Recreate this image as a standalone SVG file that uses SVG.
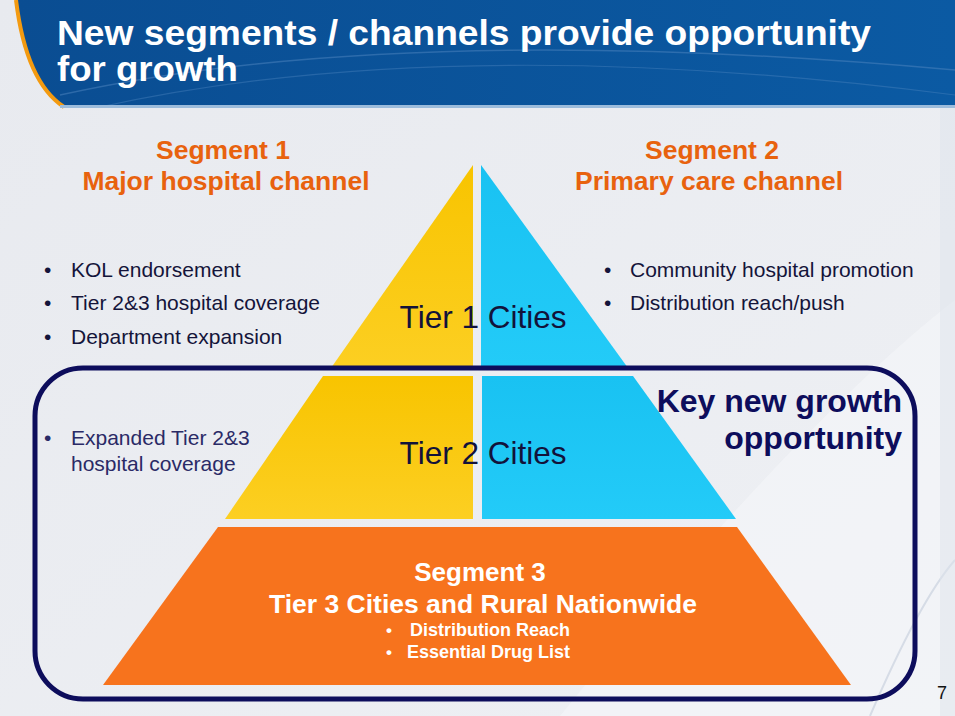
<svg xmlns="http://www.w3.org/2000/svg" width="955" height="716" viewBox="0 0 955 716">
<defs>
<linearGradient id="hdr" x1="0" y1="0" x2="1" y2="0">
<stop offset="0" stop-color="#0a4d92"/>
<stop offset="1" stop-color="#0b5aa3"/>
</linearGradient>
<linearGradient id="bg" x1="0" y1="0" x2="1" y2="1">
<stop offset="0" stop-color="#e8eaef"/>
<stop offset="1" stop-color="#eef0f4"/>
</linearGradient>
<linearGradient id="yel" x1="0" y1="0" x2="0" y2="1">
<stop offset="0" stop-color="#f8c400"/>
<stop offset="1" stop-color="#fccf22"/>
</linearGradient>
<linearGradient id="blu" x1="0" y1="0" x2="0" y2="1">
<stop offset="0" stop-color="#19c2f2"/>
<stop offset="1" stop-color="#23cbf8"/>
</linearGradient>
<style>
.seg{font-family:"Liberation Sans",Arial,sans-serif;font-weight:bold;font-size:26.5px;fill:#e8620e;text-anchor:middle}
.bul{font-family:"Liberation Sans",Arial,sans-serif;font-size:21px;fill:#14143a}
.bul2{font-family:"Liberation Sans",Arial,sans-serif;font-size:21px;fill:#2a2a66}
.tier{font-family:"Liberation Sans",Arial,sans-serif;font-size:31.5px;fill:#12123a;text-anchor:middle}
.key{font-family:"Liberation Sans",Arial,sans-serif;font-weight:bold;font-size:32px;fill:#0d0d5c;text-anchor:end}
.s3{font-family:"Liberation Sans",Arial,sans-serif;font-weight:bold;fill:#ffffff}
.ttl{font-family:"Liberation Sans",Arial,sans-serif;font-weight:bold;font-size:35px;fill:#ffffff}
</style>
</defs>

<!-- background -->
<rect x="0" y="0" width="955" height="716" fill="url(#bg)"/>
<path d="M 560 716 Q 800 420 955 300 L 955 716 Z" fill="#f3f5f8" opacity="0.7"/>
<path d="M 870 716 Q 920 600 955 560" fill="none" stroke="#d6dce6" stroke-width="2"/>
<rect x="940" y="108" width="15" height="608" fill="#dde3ec" opacity="0.5"/>

<!-- header -->
<g id="header">
<path d="M 16 0 L 955 0 L 955 107 L 64 107 Q 26 82 16 0 Z" fill="url(#hdr)"/>
<path d="M 16 0 Q 26 82 64 107" fill="none" stroke="#f39a10" stroke-width="4"/>
<path d="M 60 95 Q 400 20 955 70" fill="none" stroke="#4f86c0" stroke-width="1.5" opacity="0.5"/>
<path d="M 100 107 Q 450 30 955 95" fill="none" stroke="#4f86c0" stroke-width="1.2" opacity="0.4"/>
<rect x="60" y="105" width="895" height="3" fill="#9cbcdc"/>
<text class="ttl" x="57" y="45" textLength="814" lengthAdjust="spacingAndGlyphs">New segments / channels provide opportunity</text>
<text class="ttl" x="57" y="81" textLength="181" lengthAdjust="spacingAndGlyphs">for growth</text>
</g>

<!-- pyramid -->
<g id="tier1">
<polygon points="473,165 473,368 331,368" fill="url(#yel)"/>
<polygon points="481,165 481,368 628,368" fill="url(#blu)"/>
<text class="tier" x="483" y="328">Tier 1 Cities</text>
</g>

<g id="tier2">
<polygon points="323,376 473,376 473,519 225,519" fill="url(#yel)"/>
<polygon points="482,376 633,376 736,519 482,519" fill="url(#blu)"/>
<text class="tier" x="483" y="464">Tier 2 Cities</text>
</g>

<g id="tier3">
<polygon points="218,527 737,527 851,685 103,685" fill="#f7731d"/>
<text class="s3" x="480" y="581" font-size="26" text-anchor="middle">Segment 3</text>
<text class="s3" x="483" y="613" font-size="26" text-anchor="middle" textLength="428" lengthAdjust="spacingAndGlyphs">Tier 3 Cities and Rural Nationwide</text>
<text class="s3" x="386" y="636" font-size="17">•</text><text class="s3" x="410" y="636" font-size="18">Distribution Reach</text>
<text class="s3" x="386" y="658" font-size="17">•</text><text class="s3" x="407" y="658" font-size="18">Essential Drug List</text>
</g>

<!-- key growth box -->
<g id="key-growth">
<rect x="35" y="368" width="880" height="331" rx="48" ry="48" fill="none" stroke="#0d0d5c" stroke-width="5"/>
<text class="key" x="902" y="412">Key new growth</text>
<text class="key" x="902" y="449">opportunity</text>
</g>

<!-- segment 1 -->
<g id="segment1">
<text class="seg" x="223" y="159">Segment 1</text>
<text class="seg" x="226" y="190">Major hospital channel</text>
<text class="bul" x="44" y="277">•</text><text class="bul" x="71" y="277">KOL endorsement</text>
<text class="bul" x="44" y="310">•</text><text class="bul" x="71" y="310">Tier 2&amp;3 hospital coverage</text>
<text class="bul" x="44" y="344">•</text><text class="bul" x="71" y="344">Department expansion</text>
<text class="bul2" x="44" y="445">•</text><text class="bul2" x="71" y="445">Expanded Tier 2&amp;3</text>
<text class="bul2" x="71" y="471">hospital coverage</text>
</g>

<!-- segment 2 -->
<g id="segment2">
<text class="seg" x="712" y="159">Segment 2</text>
<text class="seg" x="709" y="190">Primary care channel</text>
<text class="bul" x="604" y="277">•</text><text class="bul" x="630" y="277">Community hospital promotion</text>
<text class="bul" x="604" y="310">•</text><text class="bul" x="630" y="310">Distribution reach/push</text>
</g>

<g id="connectors"/>

<text x="942" y="699" font-family="Liberation Sans,Arial,sans-serif" font-size="18" fill="#111" text-anchor="middle">7</text>
</svg>
